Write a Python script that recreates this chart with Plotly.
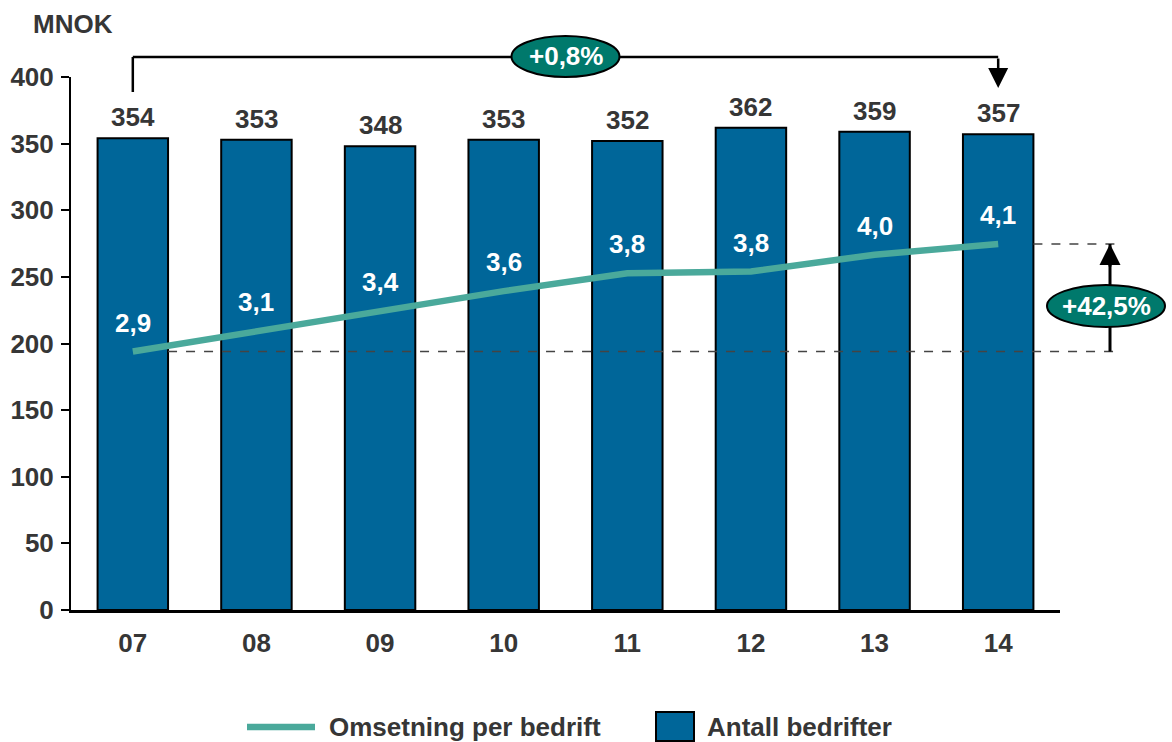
import plotly.graph_objects as go

# ---------------- data ----------------
years = ["07", "08", "09", "10", "11", "12", "13", "14"]
antall_bedrifter = [354, 353, 348, 353, 352, 362, 359, 357]
omsetning_per_bedrift = [2.91, 3.14, 3.37, 3.59, 3.79, 3.81, 4.00, 4.12]
y_ticks = [0, 50, 100, 150, 200, 250, 300, 350, 400]
y_title = "MNOK"
change_antall_label = "+0,8%"
change_omsetning_label = "+42,5%"
legend_line_name = "Omsetning per bedrift"
legend_bar_name = "Antall bedrifter"

# ---------------- style ----------------
BAR = "#006699"
LINE = "#4aa99b"
OVAL = "#00796c"
TXT = "#363636"
FONT = "Liberation Sans, Arial, sans-serif"
FS = 26

W, H = 1172, 742
L, R, T, B = 71, 112, 77, 132
PW, PH = W - L - R, H - T - B
N = len(years)
BW = 0.57


def px(xp):
    return (xp - L) / PW


def py(yp):
    return (H - B - yp) / PH


def dx(v):
    return (v + 0.5) / N


def bold(size=FS, color=TXT):
    return dict(family=FONT, size=size, color=color, weight="bold")


xs = list(range(N))

fig = go.Figure()
fig.add_trace(go.Bar(
    x=xs, y=antall_bedrifter, width=BW, name=legend_bar_name,
    marker=dict(color=BAR, line=dict(color="black", width=2)),
    showlegend=False, hoverinfo="skip"))
fig.add_trace(go.Scatter(
    x=xs, y=omsetning_per_bedrift, yaxis="y2", mode="lines", name=legend_line_name,
    line=dict(color=LINE, width=6.5), showlegend=False, hoverinfo="skip"))

ann = []
shapes = []

# bar value labels
for i, v in enumerate(antall_bedrifter):
    ann.append(dict(x=i, y=v, xref="x", yref="y", text=str(v), showarrow=False,
                    xanchor="center", yanchor="bottom", yshift=4, font=bold()))
# line value labels
for i, v in enumerate(omsetning_per_bedrift):
    ann.append(dict(x=i, y=v, xref="x", yref="y2", text=f"{v:.1f}".replace(".", ","),
                    showarrow=False, xanchor="center", yanchor="middle", yshift=29,
                    font=bold(color="white")))

# y-axis title
ann.append(dict(x=px(31), y=py(24), xref="paper", yref="paper", text=y_title,
                showarrow=False, xanchor="left", yanchor="middle", font=bold()))

# ---- top bracket (change in number of companies) ----
ytop = py(57)
shapes.append(dict(type="line", xref="x", yref="paper", x0=0, x1=0, y0=py(92), y1=ytop,
                   line=dict(color="black", width=2.5)))
shapes.append(dict(type="line", xref="x", yref="paper", x0=0, x1=N - 1, y0=ytop, y1=ytop,
                   line=dict(color="black", width=2.5)))
ann.append(dict(x=N - 1, y=py(88), xref="x", yref="paper", ax=0, ay=-31, text="",
                showarrow=True, arrowhead=2, arrowsize=1.6, arrowwidth=2.5, arrowcolor="black"))
cx = (dx(0) + dx(N - 1)) / 2
shapes.append(dict(type="circle", xref="paper", yref="paper",
                   x0=cx - 54 / PW, x1=cx + 54 / PW, y0=py(77), y1=py(36),
                   fillcolor=OVAL, line=dict(color="black", width=2), layer="above"))
ann.append(dict(x=cx, y=py(56.5), xref="paper", yref="paper", text=change_antall_label,
                showarrow=False, xanchor="center", yanchor="middle",
                font=bold(color="white")))

# ---- right marker (change in revenue per company) ----
xr = px(1116)
xa = px(1110)
shapes.append(dict(type="line", xref="paper", yref="y2", x0=dx(0 + BW / 2), x1=xr,
                   y0=omsetning_per_bedrift[0], y1=omsetning_per_bedrift[0],
                   line=dict(color="#444444", width=1.5, dash="dash"), layer="above"))
shapes.append(dict(type="line", xref="paper", yref="y2", x0=dx(N - 1 + BW / 2), x1=xr,
                   y0=omsetning_per_bedrift[-1], y1=omsetning_per_bedrift[-1],
                   line=dict(color="#444444", width=1.5, dash="dash"), layer="above"))
shapes.append(dict(type="line", xref="paper", yref="y2", x0=xa, x1=xa,
                   y0=omsetning_per_bedrift[0], y1=omsetning_per_bedrift[-1],
                   line=dict(color="black", width=3), layer="above"))
ann.append(dict(x=xa, y=omsetning_per_bedrift[-1], xref="paper", yref="y2", ax=0, ay=24,
                text="", showarrow=True, arrowhead=2, arrowsize=1.4, arrowwidth=3,
                arrowcolor="black"))
shapes.append(dict(type="circle", xref="paper", yref="paper",
                   x0=px(1047), x1=px(1165), y0=py(327), y1=py(285),
                   fillcolor=OVAL, line=dict(color="black", width=2), layer="above"))
ann.append(dict(x=px(1106), y=py(306), xref="paper", yref="paper", text=change_omsetning_label,
                showarrow=False, xanchor="center", yanchor="middle",
                font=bold(color="white")))

# ---- manual legend ----
ly = py(727)
shapes.append(dict(type="line", xref="paper", yref="paper", x0=px(247), x1=px(315), y0=ly, y1=ly,
                   line=dict(color=LINE, width=6.5)))
ann.append(dict(x=px(327), y=ly, xref="paper", yref="paper", text=legend_line_name,
                showarrow=False, xanchor="left", yanchor="middle", font=bold()))
shapes.append(dict(type="rect", xref="paper", yref="paper", x0=px(656), x1=px(694),
                   y0=py(741), y1=py(712), fillcolor=BAR, line=dict(color="black", width=2)))
ann.append(dict(x=px(705), y=ly, xref="paper", yref="paper", text=legend_bar_name,
                showarrow=False, xanchor="left", yanchor="middle", font=bold()))

fig.update_layout(
    width=W, height=H,
    margin=dict(l=L, r=R, t=T, b=B, pad=0, autoexpand=False),
    paper_bgcolor="white", plot_bgcolor="white",
    font=bold(),
    showlegend=False,
    bargap=1 - BW,
    xaxis=dict(range=[-0.5, N - 0.5], tickvals=xs, ticktext=years, showgrid=False,
               zeroline=False, showline=True, linecolor="black", linewidth=2.5,
               ticks="", ticklabelstandoff=8, automargin=False, tickfont=bold()),
    yaxis=dict(range=[0, 400], tickvals=y_ticks, showgrid=False, zeroline=False,
               showline=True, linecolor="black", linewidth=2, ticks="outside",
               ticklen=8, tickwidth=2, tickcolor="black", ticklabelstandoff=2,
               automargin=False, tickfont=bold()),
    yaxis2=dict(range=[0, 6], overlaying="y", visible=False),
    annotations=ann,
    shapes=shapes,
)

fig.write_html("out.html",
               config={"displayModeBar": False},
               post_script="document.body.style.margin='0px';document.body.style.overflow='hidden';")
